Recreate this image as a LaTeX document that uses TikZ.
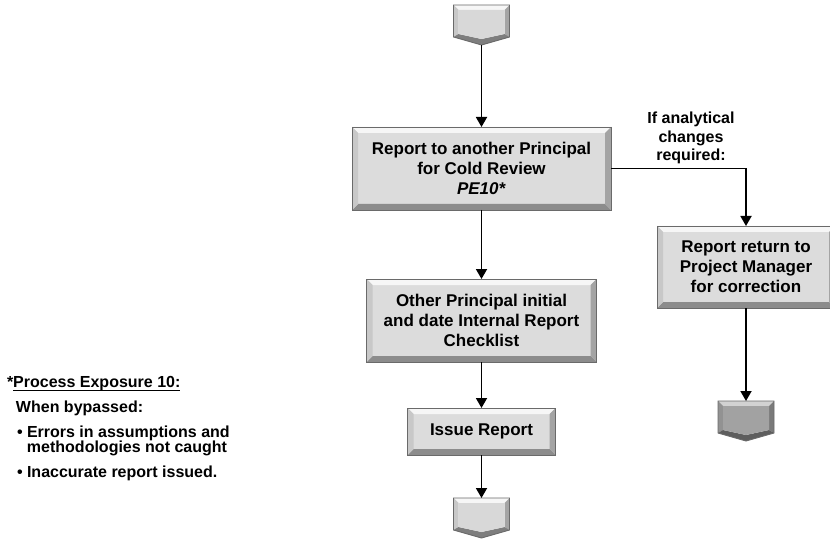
\documentclass[tikz,border=0pt]{standalone}
\usepackage{fontspec}
\setmainfont{Liberation Sans}
\usetikzlibrary{arrows.meta,calc}
\definecolor{face}{HTML}{DCDCDC}
\definecolor{bevtop}{HTML}{F6F6F6}
\definecolor{bevleft}{HTML}{C8C8C8}
\definecolor{bevright}{HTML}{A4A4A4}
\definecolor{bevbot}{HTML}{8C8C8C}
\definecolor{edgegray}{HTML}{6A6A6A}
\definecolor{dface}{HTML}{A2A2A2}
\definecolor{dtop}{HTML}{D2D2D2}
\definecolor{dleft}{HTML}{929292}
\definecolor{dright}{HTML}{7A7A7A}
\definecolor{dbot}{HTML}{5E5E5E}
\definecolor{lface}{HTML}{D8D8D8}
\definecolor{lbot}{HTML}{7E7E7E}

\tikzset{
  boxbevel/.style={path picture={
    \coordinate (qNW) at (path picture bounding box.north west);
    \coordinate (qSE) at (path picture bounding box.south east);
    \coordinate (qNE) at (qNW -| qSE);
    \coordinate (qSW) at (qSE -| qNW);
    \fill[bevtop] (qNW) -- (qNE) -- ($(qNE)+(-6,6)$) -- ($(qNW)+(6,6)$) -- cycle;
    \fill[bevbot] (qSW) -- (qSE) -- ($(qSE)+(-6,-6)$) -- ($(qSW)+(6,-6)$) -- cycle;
    \fill[bevleft] (qNW) -- ($(qNW)+(6,6)$) -- ($(qSW)+(6,-6)$) -- (qSW) -- cycle;
    \fill[bevright] (qNE) -- ($(qNE)+(-6,6)$) -- ($(qSE)+(-6,-6)$) -- (qSE) -- cycle;
  }},
  procbox/.style={draw=edgegray, line width=0.9pt, fill=face, boxbevel,
    inner sep=0pt, outer sep=0pt, align=center,
    font=\bfseries\fontsize{17}{20}\selectfont},
  flow/.style={line width=1.8pt, -{Triangle[length=10pt,width=11pt]}},
  legendtxt/.style={inner sep=0pt, outer sep=0pt, anchor=base west,
    font=\bfseries\fontsize{16}{18}\selectfont},
  condlbl/.style={inner sep=0pt, align=center,
    font=\bfseries\fontsize{16}{18.5}\selectfont},
  pentnode/.style={minimum width=56pt, minimum height=40pt, inner sep=0pt, outer sep=0pt},
}

% off-page connector: #1 name, #2 face, #3 top bevel, #4 side bevel, #5 right bevel, #6 bottom bevel
\newcommand\offpage[6]{%
  \fill[#3] (#1.north west) -- (#1.north east) -- ($(#1.north east)+(-5,5)$) -- ($(#1.north west)+(5,5)$) -- cycle;
  \fill[#4] (#1.north west) -- ($(#1.north west)+(5,5)$) -- ($(#1.south west)+(5,-11)$) -- ($(#1.south west)+(0,-8)$) -- cycle;
  \fill[#5] (#1.north east) -- ($(#1.north east)+(-5,5)$) -- ($(#1.south east)+(-5,-11)$) -- ($(#1.south east)+(0,-8)$) -- cycle;
  \fill[#6] ($(#1.south west)+(0,-8)$) -- ($(#1.south west)+(5,-11)$) -- ($(#1.south)+(0,-6)$) -- ($(#1.south east)+(-5,-11)$) -- ($(#1.south east)+(0,-8)$) -- (#1.south) -- cycle;
  \fill[#2] ($(#1.north west)+(5,5)$) -- ($(#1.north east)+(-5,5)$) -- ($(#1.south east)+(-5,-11)$) -- ($(#1.south)+(0,-6)$) -- ($(#1.south west)+(5,-11)$) -- cycle;
  \draw[edgegray, line width=0.9pt, line join=miter] (#1.north west) -- (#1.north east) -- ($(#1.south east)+(0,-8)$) -- (#1.south) -- ($(#1.south west)+(0,-8)$) -- cycle;
}

\begin{document}
\begin{tikzpicture}[x=1pt,y=-1pt]
\useasboundingbox (0,0) rectangle (830,540);
\fill[white] (0,0) rectangle (830,540);

% boxes
\node[procbox, minimum width=259pt, minimum height=83pt] (b1) at (481.5,168.5)
  {Report to another Principal\\for Cold Review\\\textit{PE10*}};
\node[procbox, minimum width=230pt, minimum height=83pt] (b2) at (481.5,320.5)
  {Other Principal initial\\and date Internal Report\\Checklist};
\node[procbox, minimum width=178pt, minimum height=82pt] (b3) at (746,267)
  {Report return to\\Project Manager\\for correction};
\node[procbox, minimum width=148pt, minimum height=47pt] (b4) at (481.5,431.5)
  {Issue Report};

% off-page connectors
\node[pentnode] (start) at (481.5,25) {};
\node[pentnode] (endA) at (481.5,518) {};
\node[pentnode] (endB) at (746,421) {};
\offpage{start}{lface}{bevtop}{bevleft}{bevright}{lbot}
\offpage{endA}{lface}{bevtop}{bevleft}{bevright}{lbot}
\offpage{endB}{dface}{dtop}{dleft}{dright}{dbot}

% connectors
\draw[flow] (start.south) -- (b1.north);
\draw[flow] (b1.south) -- (b2.north);
\draw[flow] (b2.south) -- (b4.north);
\draw[flow] (b4.south) -- (endA.north);
\draw[flow] (b1.east) -| (b3.north);
\draw[flow] (b3.south) -- (endB.north);

% condition label
\node[condlbl] (cond) at (691,138) {If analytical\\changes\\required:};

% legend
\node[legendtxt] (lg0) at (7,387) {*};
\node[legendtxt] (lg1) at (lg0.base east) {Process Exposure 10:};
\draw[line width=1pt] ($(lg1.base west)+(0,3)$) -- ($(lg1.base east)+(0,3)$);
\node[legendtxt] (lg2) at (16,412) {When bypassed:};
\node[legendtxt] (lg3) at (17,437) {\textbullet\ Errors in assumptions and};
\node[legendtxt] (lg4) at (27,452) {methodologies not caught};
\node[legendtxt] (lg5) at (17,477) {\textbullet\ Inaccurate report issued.};
\end{tikzpicture}
\end{document}
